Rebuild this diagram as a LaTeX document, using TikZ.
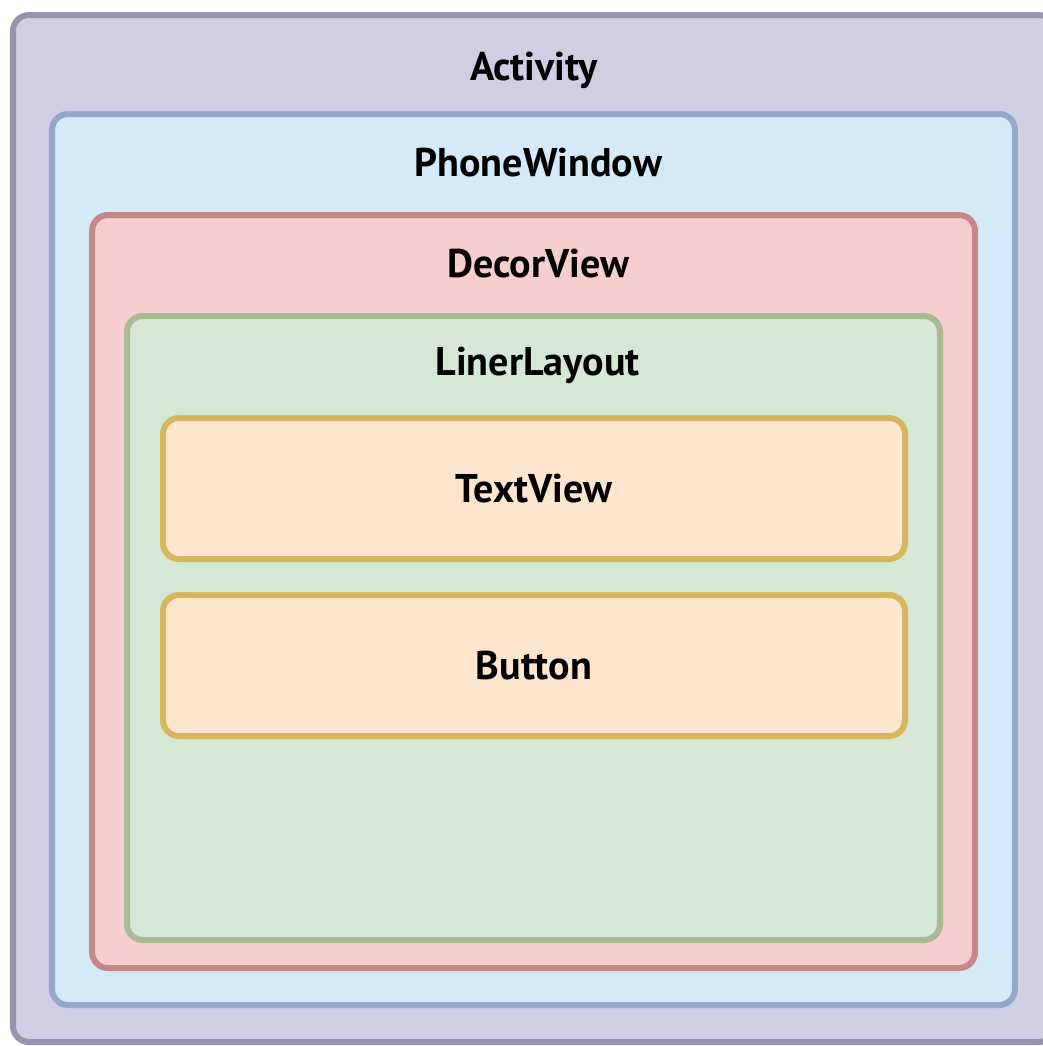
\documentclass[tikz,border=0pt]{standalone}
\usepackage{fontspec}
\setmainfont{PT Sans}
\usetikzlibrary{positioning, fit}

\definecolor{actfill}{HTML}{D0CEE3}
\definecolor{actline}{HTML}{9894B0}
\definecolor{winfill}{HTML}{D5EAF8}
\definecolor{winline}{HTML}{93A9C9}
\definecolor{decfill}{HTML}{F5CECD}
\definecolor{decline}{HTML}{C58788}
\definecolor{linfill}{HTML}{D5E7D5}
\definecolor{linline}{HTML}{AABA93}
\definecolor{viewfill}{HTML}{FDE6CD}
\definecolor{viewline}{HTML}{D6B760}

\begin{document}
\begin{tikzpicture}[
	x=0.025cm, y=-0.025cm,
	every node/.style={font=\fontsize{28.5}{32}\selectfont\bfseries},
	layer/.style={rectangle, rounded corners=0.4cm, line width=0.15cm, inner sep=0pt},
	title/.style={below=1.3cm of #1.north, anchor=center}
]
\useasboundingbox (0,0) rectangle (1043,1046);
\clip (0,0) rectangle (1043,1046);

% nested containers, outermost first
\node[layer, draw=actline, fill=actfill, fit={(13,15) (1055,1042)}] (activity) {};
\node[layer, draw=winline, fill=winfill, fit={(52,114) (1015,1005)}] (window) {};
\node[layer, draw=decline, fill=decfill, fit={(92,215) (975,968)}] (decor) {};
\node[layer, draw=linline, fill=linfill, fit={(127,316) (940,940)}] (linear) {};

% container titles
\node[title=activity, yshift=-0.15cm] (activitytxt) {Activity};
\node[title=window, xshift=0.12cm] (windowtxt) {PhoneWindow};
\node[title=decor, xshift=0.12cm] (decortxt) {DecorView};
\node[title=linear, xshift=0.1cm] (lineartxt) {LinerLayout};

% child views
\node[layer, draw=viewline, fill=viewfill, fit={(163,418) (905,559)}] (textview) {};
\node at (textview.center) (textviewtxt) {TextView};
\node[layer, draw=viewline, fill=viewfill, fit={(163,595) (905,736)}] (button) {};
\node at (button.center) (buttontxt) {Button};

\end{tikzpicture}
\end{document}
